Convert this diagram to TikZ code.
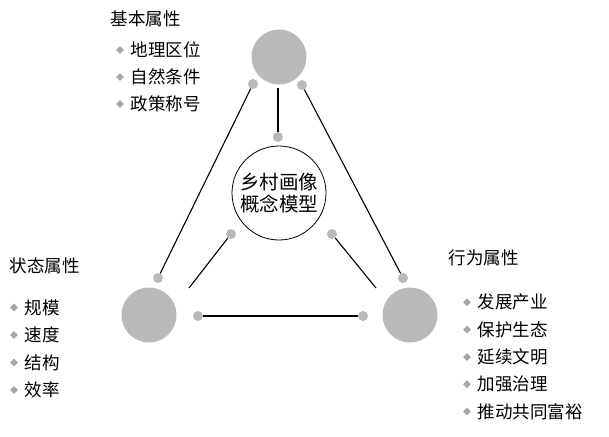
\documentclass[tikz,border=0pt]{standalone}
\usepackage{fontspec}
\setmainfont{Noto Sans CJK SC}
\begin{document}
\begin{tikzpicture}[x=1pt,y=-1pt,
  big/.style={circle,fill=gray!55,minimum size=55pt,inner sep=0},
  dot/.style={circle,fill=gray!55,minimum size=10pt,inner sep=0},
  title/.style={anchor=west,font=\fontsize{17.5}{19}\selectfont},
  item/.style={anchor=west,font=\fontsize{17.5}{19}\selectfont},
  bul/.style={fill=gray!70,rotate=45,minimum size=5.5pt,inner sep=0}]
	\useasboundingbox (0,0) rectangle (609,436);

	\node[big](top) at (279,57) {};
	\node[big](bl) at (149,315) {};
	\node[big](br) at (410,315) {};
	\node[circle,draw,thick,minimum size=94pt,inner sep=0,align=center,
	  font=\fontsize{19.5}{22}\selectfont](c) at (279,193) {乡村画像\\概念模型};

	\node[dot](d1) at (253,84) {};
	\node[dot](d2) at (302,85) {};
	\node[dot](d3) at (278,137) {};
	\node[dot](d4) at (231,234) {};
	\node[dot](d5) at (332,234) {};
	\node[dot](d6) at (158,278) {};
	\node[dot](d7) at (403,278) {};
	\node[dot](d8) at (198,316) {};
	\node[dot](d9) at (363,316) {};
	\coordinate(e1) at (278,88);
	\coordinate(e4) at (189,288);
	\coordinate(e5) at (376,288);

	\draw[line width=1.1pt](e1) -- (d3);
	\draw[line width=1.1pt](d1) -- (d6);
	\draw[line width=1.1pt](d2) -- (d7);
	\draw[line width=1.1pt](d8) -- (d9);
	\draw[line width=1.1pt](d4) -- (e4);
	\draw[line width=1.1pt](d5) -- (e5);

	% text blocks
	\node[title](t1) at (107,19) {基本属性};
	\foreach \t [count=\i] in {地理区位,自然条件,政策称号}{
		\node[bul](b1\i) at (120,23+27*\i) {};
		\node[item](i1\i) at (127,23+27*\i) {\t};
	}
	\node[title](t2) at (6,266) {状态属性};
	\foreach \t [count=\i] in {规模,速度,结构,效率}{
		\node[bul](b2\i) at (14,280+27.5*\i) {};
		\node[item](i2\i) at (21,280+27.5*\i) {\t};
	}
	\node[title](t3) at (445,258) {行为属性};
	\foreach \t [count=\i] in {发展产业,保护生态,延续文明,加强治理,推动共同富裕}{
		\node[bul](b3\i) at (467,275+27.3*\i) {};
		\node[item](i3\i) at (474,275+27.3*\i) {\t};
	}
\end{tikzpicture}
\end{document}
